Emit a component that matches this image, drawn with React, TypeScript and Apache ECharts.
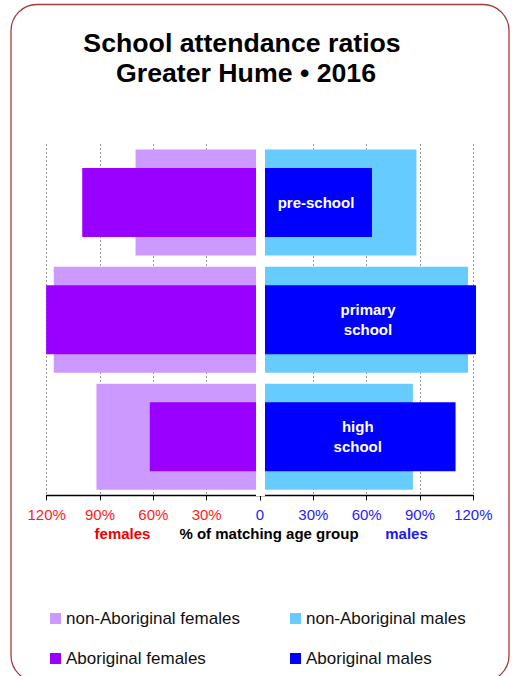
import React, { useEffect, useRef } from "react";
import * as echarts from "echarts";

const categories = ["pre-school", "primary school", "high school"];
const barLabels = ["pre-school", "primary\nschool", "high\nschool"];
const nonAboriginalFemales = [70, 116, 92];
const aboriginalFemales = [100, 120.3, 62];
const nonAboriginalMales = [88, 117, 86];
const aboriginalMales = [63, 121.5, 110];
const tickValues = [0, 30, 60, 90, 120];

const FONT = "'Liberation Sans', Arial, Helvetica, sans-serif";
const C_NAF = "#cc99ff";
const C_AF = "#9900ff";
const C_NAM = "#66ccff";
const C_AM = "#0000ff";

export default function App() {
  const ref = useRef<HTMLDivElement>(null);
  useEffect(() => {
    if (!ref.current) return;
    const chart = echarts.init(ref.current, null, { renderer: "svg" });
    const gridTop = 144;
    const gridH = 351.3;
    const splitLine = { show: true, lineStyle: { color: "#999", type: [2, 2] as any, width: 1 } };
    const catAxis = (gridIndex: number) => ({
      type: "category",
      gridIndex,
      data: categories,
      inverse: true,
      axisLine: { show: false },
      axisTick: { show: false },
      axisLabel: { show: false },
      splitLine: { show: false },
    });
    const valAxis = (gridIndex: number, inverse: boolean, color: string) => ({
      type: "value",
      gridIndex,
      min: 0,
      max: tickValues[tickValues.length - 1],
      interval: 30,
      inverse,
      axisLine: { show: true, onZero: false, lineStyle: { color: "#000", width: 1.3 } },
      axisTick: { show: true, length: 5, lineStyle: { color: "#000" } },
      axisLabel: {
        color,
        fontFamily: FONT,
        fontSize: 15,
        margin: 12,
        lineHeight: 15,
        formatter: (v: number) => (v === 0 ? (inverse ? "" : "0") : v + "%"),
      },
      splitLine,
    });
    const legendItem = (name: string, left: number, top: number) => ({
      data: [name],
      left,
      top,
      padding: 0,
      orient: "horizontal",
      icon: "rect",
      itemWidth: 11,
      itemHeight: 11,
      itemGap: 6,
      selectedMode: false,
      textStyle: { fontFamily: FONT, fontSize: 17, color: "#111" },
    });
    chart.setOption({
      animation: false,
      backgroundColor: "#fff",
      grid: [
        { left: 46.67, top: gridTop, width: 213.33, height: gridH },
        { left: 260, top: gridTop, width: 213.33, height: gridH },
      ],
      xAxis: [valAxis(0, true, "#ff1a1a"), valAxis(1, false, "#2222ff")],
      yAxis: [catAxis(0), catAxis(0), catAxis(1), catAxis(1)],
      legend: [
        legendItem("non-Aboriginal females", 50, 610),
        legendItem("Aboriginal females", 50, 650),
        legendItem("non-Aboriginal males", 290, 610),
        legendItem("Aboriginal males", 290, 650),
      ],
      series: [
        {
          name: "non-Aboriginal females",
          type: "bar",
          xAxisIndex: 0,
          yAxisIndex: 0,
          data: nonAboriginalFemales,
          barWidth: 106,
          clip: false,
          itemStyle: { color: C_NAF },
          z: 2,
        },
        {
          name: "Aboriginal females",
          type: "bar",
          xAxisIndex: 0,
          yAxisIndex: 1,
          data: aboriginalFemales,
          barWidth: 69,
          clip: false,
          itemStyle: { color: C_AF },
          z: 3,
        },
        {
          name: "non-Aboriginal males",
          type: "bar",
          xAxisIndex: 1,
          yAxisIndex: 2,
          data: nonAboriginalMales,
          barWidth: 106,
          clip: false,
          itemStyle: { color: C_NAM },
          z: 2,
        },
        {
          name: "Aboriginal males",
          type: "bar",
          xAxisIndex: 1,
          yAxisIndex: 3,
          data: aboriginalMales,
          barWidth: 69,
          clip: false,
          itemStyle: { color: C_AM },
          z: 3,
          label: {
            show: true,
            position: "inside",
            formatter: (p: any) => barLabels[p.dataIndex],
            color: "#fff",
            fontFamily: FONT,
            fontWeight: "bold",
            fontSize: 15,
            lineHeight: 20,
          },
        },
      ],
      graphic: [
        {
          type: "rect",
          shape: { x: 11, y: 4.5, width: 498, height: 677, r: 26 },
          style: { fill: "none", stroke: "#a83a3a", lineWidth: 1.3 },
          z: 100,
          silent: true,
        },
        {
          type: "rect",
          shape: { x: 256, y: 138, width: 9, height: 358 },
          style: { fill: "#fff" },
          z: 50,
          silent: true,
        },
        {
          type: "text",
          x: 242,
          y: 43,
          style: {
            text: "School attendance ratios",
            font: `bold 26.7px ${FONT}`,
            fill: "#000",
            textAlign: "center",
            textVerticalAlign: "middle",
          },
        },
        {
          type: "text",
          x: 246,
          y: 73,
          style: {
            text: "Greater Hume • 2016",
            font: `bold 26.7px ${FONT}`,
            fill: "#000",
            textAlign: "center",
            textVerticalAlign: "middle",
          },
        },
        {
          type: "text",
          x: 122.5,
          y: 533,
          style: {
            text: "females",
            font: `bold 15px ${FONT}`,
            fill: "#ee0000",
            textAlign: "center",
            textVerticalAlign: "middle",
          },
        },
        {
          type: "text",
          x: 269,
          y: 533,
          style: {
            text: "% of matching age group",
            font: `bold 15px ${FONT}`,
            fill: "#000",
            textAlign: "center",
            textVerticalAlign: "middle",
          },
        },
        {
          type: "text",
          x: 406.5,
          y: 533,
          style: {
            text: "males",
            font: `bold 15px ${FONT}`,
            fill: "#1a1aee",
            textAlign: "center",
            textVerticalAlign: "middle",
          },
        },
      ],
    });
    return () => chart.dispose();
  }, []);
  return (
    <div
      ref={ref}
      style={{ position: "fixed", left: 0, top: 0, width: 514, height: 676 }}
    />
  );
}
